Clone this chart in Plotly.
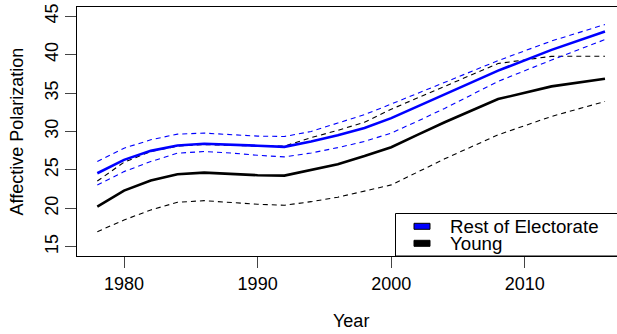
import plotly.graph_objects as go

# Survey years
years = [1978, 1980, 1982, 1984, 1986, 1988, 1990, 1992, 1994, 1996,
         1998, 2000, 2002, 2004, 2008, 2012, 2016]

# Rest of electorate: fitted value with upper / lower bounds
rest_fit = [24.57, 26.31, 27.48, 28.17, 28.40, 28.30, 28.15, 28.00, 28.70, 29.50,
            30.45, 31.74, 33.26, 34.80, 37.92, 40.62, 43.00]
rest_hi = [26.09, 27.83, 28.92, 29.66, 29.79, 29.60, 29.40, 29.35, 30.00, 31.10,
           32.20, 33.57, 35.00, 36.35, 39.22, 41.78, 43.92]
rest_lo = [23.05, 24.78, 26.09, 27.18, 27.39, 27.20, 26.90, 26.70, 27.20, 27.90,
           28.70, 29.80, 31.37, 33.00, 36.52, 39.30, 41.96]

# Young: fitted value with upper / lower bounds
young_fit = [20.22, 22.31, 23.61, 24.44, 24.65, 24.48, 24.31, 24.26, 25.05, 25.75,
             26.80, 27.96, 29.60, 31.20, 34.22, 35.87, 36.87]
young_hi = [23.55, 26.00, 27.40, 28.10, 28.30, 28.20, 28.10, 28.10, 29.20, 30.15,
            31.20, 32.90, 34.40, 35.90, 38.85, 39.78, 39.80]
young_lo = [16.96, 18.48, 19.79, 20.79, 21.00, 20.77, 20.53, 20.40, 20.87, 21.45,
            22.20, 23.05, 24.74, 26.44, 29.57, 31.96, 33.91]

x_ticks = [1980, 1990, 2000, 2010]
y_ticks = [15, 20, 25, 30, 35, 40, 45]
legend_labels = ["Rest of Electorate", "Young"]
legend_colors = ["#0000ff", "#000000"]

FONT = "Liberation Sans, Arial, Helvetica, sans-serif"
DASH = "5px,4px"

fig = go.Figure()

# Young group first, the rest of the electorate drawn above it
for vals, width, dash in [(young_lo, 1.1, DASH), (young_hi, 1.1, DASH),
                          (young_fit, 2.6, "solid")]:
    fig.add_trace(go.Scatter(x=years, y=vals, mode="lines",
                             line=dict(color="#000000", width=width, dash=dash),
                             showlegend=False, hoverinfo="skip"))
for vals, width, dash in [(rest_lo, 1.1, DASH), (rest_hi, 1.1, DASH),
                          (rest_fit, 2.6, "solid")]:
    fig.add_trace(go.Scatter(x=years, y=vals, mode="lines",
                             line=dict(color="#0000ff", width=width, dash=dash),
                             showlegend=False, hoverinfo="skip"))

W, H = 617, 334
ML, MR, MT, MB = 77, 0, 7, 78
pw, ph = W - ML - MR, H - MT - MB


def px(xp):
    return (xp - ML) / pw


def py(yp):
    return 1 - (yp - MT) / ph


shapes = []
annotations = []

# legend frame in the lower-right corner
shapes.append(dict(type="rect", xref="paper", yref="paper",
                   x0=px(395.5), x1=px(640), y0=py(256), y1=py(213.5),
                   line=dict(color="#000000", width=1), fillcolor="white",
                   layer="above"))
key_rows = [(223.3, 229.3, 226.0), (240.3, 246.3, 243.8)]
for (k0, k1, ty), lab, col in zip(key_rows, legend_labels, legend_colors):
    shapes.append(dict(type="rect", xref="paper", yref="paper",
                       x0=px(414), x1=px(430), y0=py(k1), y1=py(k0),
                       line=dict(color="#000000", width=1), fillcolor=col,
                       layer="above"))
    annotations.append(dict(text=lab, xref="paper", yref="paper",
                            x=px(448), y=py(ty), xanchor="left", yanchor="middle",
                            showarrow=False,
                            font=dict(family=FONT, size=18.7, color="#000000")))

# axis titles
annotations.append(dict(text="Year", xref="paper", yref="paper",
                        x=px(351), y=py(321), xanchor="center", yanchor="middle",
                        showarrow=False,
                        font=dict(family=FONT, size=18, color="#000000")))
annotations.append(dict(text="Affective Polarization", xref="paper", yref="paper",
                        x=px(16), y=py(131.5), xanchor="center", yanchor="middle",
                        textangle=-90, showarrow=False,
                        font=dict(family=FONT, size=18, color="#000000")))

fig.update_layout(
    width=W, height=H,
    margin=dict(l=ML, r=MR, t=MT, b=MB, pad=0),
    paper_bgcolor="white", plot_bgcolor="white",
    font=dict(family=FONT, size=18, color="#000000"),
    shapes=shapes, annotations=annotations,
    showlegend=False,
)
fig.update_xaxes(range=[1976.48, 2016.90], tickvals=x_ticks,
                 ticks="outside", ticklen=11, tickcolor="#444444", tickwidth=1,
                 showline=True, linecolor="#000000", linewidth=1, mirror=True,
                 showgrid=False, zeroline=False,
                 tickfont=dict(family=FONT, size=18, color="#000000"))
fig.update_yaxes(range=[13.8, 46.2], tickvals=y_ticks, tickangle=-90,
                 ticks="outside", ticklen=11, tickcolor="#444444", tickwidth=1,
                 showline=True, linecolor="#000000", linewidth=1, mirror=False,
                 showgrid=False, zeroline=False,
                 tickfont=dict(family=FONT, size=18, color="#000000"))

fig.write_html("out.html")
